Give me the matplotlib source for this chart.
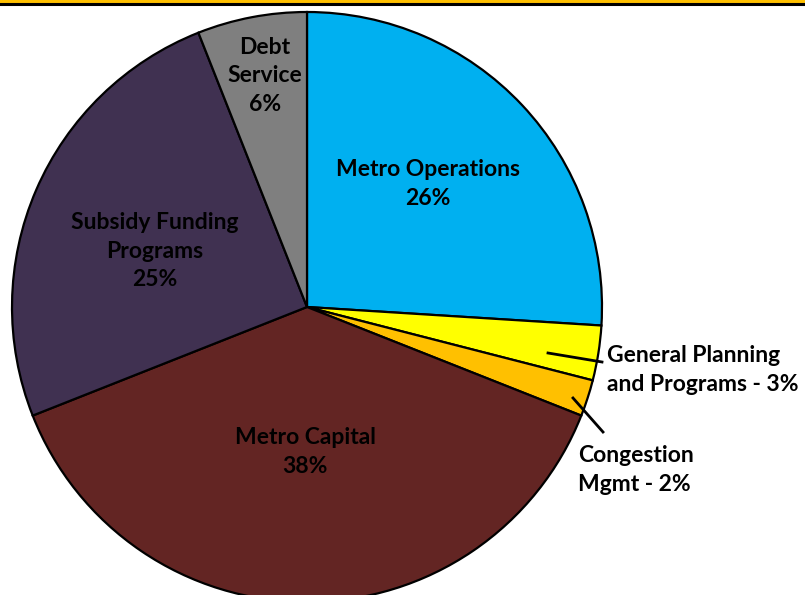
import matplotlib
matplotlib.use('Agg')
import matplotlib.pyplot as plt

labels = ['Metro Operations', 'General Planning and Programs', 'Congestion Mgmt',
          'Metro Capital', 'Subsidy Funding Programs', 'Debt Service']
shares = [26, 3, 2, 38, 25, 6]
colors = ['#00B0F0', '#FFFF00', '#FFC000', '#632523', '#403151', '#7F7F7F']

plt.rcParams['font.family'] = ['Lato', 'DejaVu Sans']

W, H = 805, 595
fig = plt.figure(figsize=(W / 100, H / 100), dpi=100)
ax = fig.add_axes([0, 0, 1, 1])

cx, cy, r = 307, 307, 295
wedges, _ = ax.pie(shares, colors=colors, startangle=-90, counterclock=True,
                   center=(cx, cy), radius=r, frame=True,
                   wedgeprops=dict(edgecolor='black', linewidth=1.6))
ax.set_xlim(0, W)
ax.set_ylim(H, 0)
ax.axis('off')

# top border
ax.axhline(1, color='#FFC000', linewidth=2.2)
ax.axhline(3.5, color='black', linewidth=2.2)

fs = 16.5
ls = 1.45
txt = dict(fontsize=fs, fontweight='bold', ha='center', va='center', linespacing=ls)
ax.text(428, 184, f'{labels[0]}\n{shares[0]}%', color='black', **txt)
ax.text(265, 76, f'Debt\nService\n{shares[5]}%', color='black', **txt)
ax.text(155, 251, f'Subsidy Funding\nPrograms\n{shares[4]}%', color='black', **txt)
ax.text(305, 452, f'{labels[3]}\n{shares[3]}%', color='black', **txt)

ax.text(607, 370, f'General Planning\nand Programs - {shares[1]}%', fontsize=fs,
        fontweight='bold', ha='left', va='center', linespacing=ls)
ax.text(578, 470, f'Congestion\nMgmt - {shares[2]}%', fontsize=fs,
        fontweight='bold', ha='left', va='center', linespacing=ls)
ax.plot([548, 602], [353, 362], color='black', linewidth=2)
ax.plot([573, 603], [398, 432], color='black', linewidth=2)

fig.savefig('out.png', dpi=100)
